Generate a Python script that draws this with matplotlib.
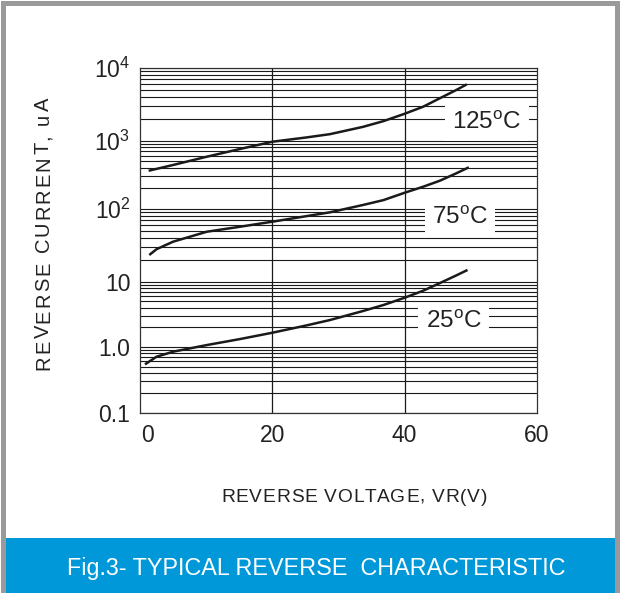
import numpy as np
import matplotlib
matplotlib.use('Agg')
import matplotlib.pyplot as plt
from matplotlib.patches import Rectangle
import matplotlib.transforms as mtransforms
from matplotlib import font_manager
from matplotlib.ft2font import FT2Font

plt.rcParams['font.family'] = ['Liberation Sans', 'DejaVu Sans']
plt.rcParams['mathtext.fontset'] = 'custom'
plt.rcParams['mathtext.rm'] = 'Liberation Sans'

# ---- data ----
v_125 = [1.3, 5.0, 10.1, 15.1, 20.0, 25.2, 28.7, 33.7, 36.8, 39.9, 42.8, 45.3, 47.8, 49.4]
i_125 = [363, 441, 583, 756, 966, 1110, 1230, 1550, 1860, 2330, 2935, 3830, 4980, 5970]

v_75 = [1.4, 2.5, 5.0, 10.1, 15.1, 20.0, 28.7, 33.7, 36.8, 40.0, 42.8, 45.3, 47.8, 49.7]
i_75 = [23.3, 28.0, 35.5, 48.7, 57, 66.9, 90, 114.5, 135, 173, 212, 259, 333, 408]

v_25 = [0.75, 2.5, 5.0, 10.1, 15.1, 20.0, 25.2, 28.7, 33.7, 36.8, 40.0, 42.8, 45.3, 47.8, 49.5]
i_25 = [0.54, 0.705, 0.84, 1.06, 1.31, 1.64, 2.13, 2.57, 3.54, 4.38, 5.67, 7.27, 9.5, 12.2, 14.5]

curve_labels = ['125$^{\\rm o}$C', '75$^{\\rm o}$C', '25$^{\\rm o}$C']

x_ticks = [0, 20, 40, 60]
x_ticklabels = ['0', '20', '40', '60']
y_ticks = [0.1, 1, 10, 100, 1000, 10000]
y_ticklabels = ['0.1', '1.0', '10', '10$^{2}$', '10$^{3}$', '10$^{4}$']

# decade positions of the hand-drawn chart (pixel heights above 0.1)
dec_log = np.array([-1, 0, 1, 2, 3, 4], dtype=float)
dec_pos = np.array([0, 66, 131, 203.7, 272, 344.7])


def fwd(v):
    v = np.clip(np.asarray(v, dtype=float), 1e-3, 1e6)
    return np.interp(np.log10(v), dec_log, dec_pos)


def inv(p):
    p = np.asarray(p, dtype=float)
    return 10 ** np.interp(p, dec_pos, dec_log)


W, H = 620, 593
DPI = 100
fig = plt.figure(figsize=(W / DPI, H / DPI), dpi=DPI)

_font_path = font_manager.findfont(font_manager.FontProperties(family='Liberation Sans'))


def advances(s, size):
    f = FT2Font(_font_path)
    f.set_size(size, DPI)
    out = []
    for ch in s:
        g = f.load_char(ord(ch))
        out.append(g.linearHoriAdvance / 65536.0)
    return out


def tracked_text(x_px, y_px, s, size, length_px, rotation=0, color='#222222'):
    """Draw s with letter spacing so that it spans length_px, starting at
    (x_px, y_px) (pixel coords from top-left, baseline)."""
    adv = advances(s, size)
    natural = sum(adv)
    track = (length_px - natural) / max(len(s) - 1, 1)
    pos = 0.0
    for ch, a in zip(s, adv):
        if rotation == 0:
            xx, yy = x_px + pos, y_px
        else:
            xx, yy = x_px, y_px - pos
        fig.text(xx / W, 1 - yy / H, ch, fontsize=size, rotation=rotation,
                 rotation_mode='anchor', ha='left', va='baseline', color=color)
        pos += a + track


# outer frame and banner
fig.patches.append(Rectangle((5 / W, 0), 611 / W, 55 / H, transform=fig.transFigure,
                             facecolor='#0098D8', edgecolor='none', zorder=0))
fig.patches.append(Rectangle((2.5 / W, -5 / H), 614 / W, (H - 2.5 + 5) / H,
                             transform=fig.transFigure, facecolor='none',
                             edgecolor='#9A9A9A', lw=3.6, zorder=1))
fig.text(67 / W, 1 - 575 / H, 'Fig.3- TYPICAL REVERSE  CHARACTERISTIC',
         fontsize=16.8, color='white', ha='left', va='baseline')

ax = fig.add_axes([140 / W, 1 - 412.7 / H, 397 / W, 344.7 / H])
ax.set_yscale('function', functions=(fwd, inv))
ax.set_xlim(0, 60)
ax.set_ylim(0.1, 10000)

# grid
minor = [k * 10.0 ** d for d in range(-1, 4) for k in range(2, 10)]
for yv in minor + y_ticks:
    ax.axhline(yv, color='#1a1a1a', lw=0.8, zorder=1)
for xv in x_ticks[1:-1]:
    ax.axvline(xv, color='#1a1a1a', lw=0.9, zorder=1)

for s in ax.spines.values():
    s.set_color('#333333')
    s.set_linewidth(0.9)

ax.set_xticks(x_ticks)
ax.set_xticklabels(x_ticklabels)
ax.set_yticks(y_ticks)
ax.set_yticklabels(y_ticklabels)
ax.yaxis.set_minor_locator(matplotlib.ticker.NullLocator())
ax.tick_params(axis='both', length=0, labelsize=16.5, colors='#222222')
ax.tick_params(axis='x', pad=8)
ax.tick_params(axis='y', pad=7)
lab0 = ax.get_xticklabels()[0]
lab0.set_transform(lab0.get_transform() + mtransforms.ScaledTranslation(7 / DPI, 0, fig.dpi_scale_trans))

# curves
for vx, iy in [(v_125, i_125), (v_75, i_75), (v_25, i_25)]:
    ax.plot(vx, iy, color='#1a1a1a', lw=1.8, solid_capstyle='butt',
            solid_joinstyle='round', zorder=3)

# curve labels with white boxes
label_pos = [(0.874, 0.843), (0.806, 0.565), (0.79, 0.263)]
for lab, (px, py) in zip(curve_labels, label_pos):
    ax.text(px, py, lab, transform=ax.transAxes, fontsize=17.5, color='#222222',
            ha='center', va='center', zorder=4,
            bbox=dict(boxstyle='square,pad=0.3', facecolor='white', edgecolor='none'))

tracked_text(49, 370, 'REVERSE CURRENT, uA', 14.5, 272, rotation=90)
tracked_text(221, 502, 'REVERSE VOLTAGE, VR(V)', 13.8, 266)

fig.savefig('out.png', dpi=DPI)
